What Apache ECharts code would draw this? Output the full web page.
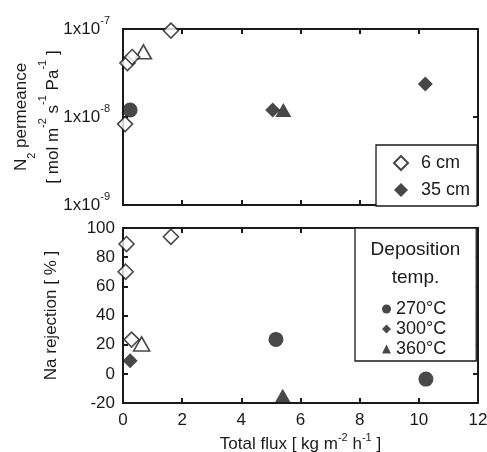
<!DOCTYPE html>
<html>
<head>
<meta charset="utf-8">
<script src="https://cdn.jsdelivr.net/npm/echarts@6/dist/echarts.min.js"></script>
<style>
html, body { margin: 0; background: #fff; }
#chart { width: 487px; height: 452px; }
</style>
</head>
<body>
<div id="chart"></div>
<script>
// total flux [kg m-2 h-1] vs N2 permeance [mol m-2 s-1 Pa-1]
const perm6cm300 = [[0.07, 8.3e-9], [0.15, 4.1e-8], [0.31, 4.8e-8], [1.62, 9.6e-8]]
const perm6cm360 = [[0.69, 5.5e-8]]
const perm35cm270 = [[0.24, 1.2e-8]]
const perm35cm300 = [[5.06, 1.2e-8], [10.22, 2.37e-8]]
const perm35cm360 = [[5.42, 1.2e-8]]

// total flux vs Na rejection [%]
const rej6cm300 = [[0.12, 89], [0.09, 70], [1.62, 94], [0.29, 23.5]]
const rej6cm360 = [[0.63, 20.5]]
const rej35cm270 = [[5.17, 23.6], [10.24, -3.6]]
const rej35cm300 = [[0.24, 9]]
const rej35cm360 = [[5.4, -15]]

// axis ranges [min, max, step]
const fluxTicks = [0, 12, 2]
const permTicks = [1e-9, 1e-7]
const rejTicks = [-20, 100, 20]

const distLegend = ['6 cm', '35 cm']
const tempLegend = ['270°C', '300°C', '360°C']

const ink = '#1a1a1a'
const font = '"Liberation Sans", Arial, sans-serif'

const shapes = {
    circle: {symbol: 'circle', symbolSize: 15},
    diamond: {symbol: 'diamond', symbolSize: 15},
    triangle: {symbol: 'triangle', symbolSize: [16, 14]}
}
const open = {color: '#fff', borderColor: ink, borderWidth: 1.6}
const filled = {color: ink}

function scatter(name, data, shape, style, panel) {
    return {
        type: 'scatter',
        name,
        data,
        ...shapes[shape],
        itemStyle: style,
        xAxisIndex: panel * 2,
        yAxisIndex: panel * 2,
        clip: false,
        silent: true
    }
}

const sup = {fontSize: 11, lineHeight: 11, verticalAlign: 'top', fontFamily: font, color: ink}
const supName = {fontSize: 11, lineHeight: 17, verticalAlign: 'top', fontFamily: font, color: ink}
const sub = {fontSize: 11, lineHeight: 11, verticalAlign: 'bottom', fontFamily: font, color: ink}

function fluxAxis(gridIndex, position, labels) {
    return {
        type: 'value',
        gridIndex,
        position,
        min: fluxTicks[0],
        max: fluxTicks[1],
        interval: fluxTicks[2],
        axisLine: {onZero: false, lineStyle: {color: ink, width: 2}},
        axisTick: {inside: true, length: 5, lineStyle: {color: ink, width: 2}},
        axisLabel: {show: labels, color: ink, fontSize: 17, margin: 9, fontFamily: font},
        splitLine: {show: false}
    }
}

function sideAxis(base, position, labels) {
    return {
        ...base,
        position,
        axisLine: {onZero: false, lineStyle: {color: ink, width: 2}},
        axisTick: {inside: true, length: 5, lineStyle: {color: ink, width: 2}},
        axisLabel: {...base.axisLabel, show: labels},
        splitLine: {show: false}
    }
}

const permAxis = {
    type: 'log',
    gridIndex: 0,
    logBase: 10,
    min: permTicks[0],
    max: permTicks[1],
    axisLabel: {
        color: ink, fontSize: 17, fontFamily: font, margin: 13, lineHeight: 28,
        formatter: v => '1x10{sup|' + Math.round(Math.log10(v)) + '}',
        rich: {sup}
    }
}

const rejAxis = {
    type: 'value',
    gridIndex: 1,
    min: rejTicks[0],
    max: rejTicks[1],
    interval: rejTicks[2],
    axisLabel: {color: ink, fontSize: 17, fontFamily: font, margin: 8}
}

const option = {
    animation: false,
    backgroundColor: '#fff',
    textStyle: {fontFamily: font},
    grid: [
        {left: 123, top: 29, width: 355, height: 176, outerBoundsMode: 'none'},
        {left: 123, top: 228, width: 355, height: 175, outerBoundsMode: 'none'}
    ],
    xAxis: [
        fluxAxis(0, 'bottom', false),
        fluxAxis(0, 'top', false),
        {
            ...fluxAxis(1, 'bottom', true),
            name: 'Total flux [ kg m{sup|-2} h{sup|-1} ]',
            nameLocation: 'middle',
            nameGap: 29,
            nameMoveOverlap: false,
            nameTextStyle: {color: ink, fontSize: 17, fontFamily: font, lineHeight: 24, rich: {sup: supName}}
        },
        fluxAxis(1, 'top', false)
    ],
    yAxis: [
        {
            ...sideAxis(permAxis, 'left', true),
            name: 'N{sub|2} permeance\n[ mol m{sup|-2} s{sup|-1} Pa{sup|-1} ]',
            nameLocation: 'middle',
            nameRotate: 90,
            nameGap: 54,
            nameMoveOverlap: false,
            nameTextStyle: {
                color: ink, fontSize: 17, fontFamily: font, lineHeight: 32,
                rich: {sup: {...supName, lineHeight: 19}, sub}
            }
        },
        sideAxis(permAxis, 'right', false),
        {
            ...sideAxis(rejAxis, 'left', true),
            name: 'Na rejection [ % ]',
            nameLocation: 'middle',
            nameRotate: 90,
            nameGap: 63,
            nameMoveOverlap: false,
            nameTextStyle: {color: ink, fontSize: 17, fontFamily: font}
        },
        sideAxis(rejAxis, 'right', false)
    ],
    legend: [
        {
            data: distLegend,
            orient: 'vertical',
            left: 376,
            top: 145,
            padding: [9, 7, 7, 17],
            itemGap: 9,
            itemWidth: 14,
            itemHeight: 14,
            backgroundColor: '#fff',
            borderColor: ink,
            borderWidth: 1.3,
            selectedMode: false,
            textStyle: {color: ink, fontSize: 18, fontFamily: font, padding: [0, 0, 0, 8]}
        },
        {
            data: tempLegend,
            orient: 'vertical',
            left: 355,
            top: 228,
            padding: [72, 30, 3, 27],
            itemGap: 2,
            itemWidth: 9,
            itemHeight: 9,
            backgroundColor: '#fff',
            borderColor: ink,
            borderWidth: 1.3,
            selectedMode: false,
            textStyle: {color: ink, fontSize: 18, fontFamily: font}
        }
    ],
    graphic: [{
        type: 'text',
        x: 415.5,
        y: 236,
        z: 100,
        style: {
            text: 'Deposition\ntemp.',
            fill: ink,
            font: '19px ' + font,
            lineHeight: 28,
            textAlign: 'center',
            textVerticalAlign: 'top'
        }
    }],
    series: [
        scatter('6 cm 360°C', perm6cm360, 'triangle', open, 0),
        scatter('35 cm 360°C', perm35cm360, 'triangle', filled, 0),
        scatter('35 cm 270°C', perm35cm270, 'circle', filled, 0),
        scatter('35 cm 300°C', perm35cm300, 'diamond', filled, 0),
        scatter('6 cm 300°C', perm6cm300, 'diamond', open, 0),

        scatter('6 cm 360°C ', rej6cm360, 'triangle', open, 1),
        scatter('35 cm 360°C ', rej35cm360, 'triangle', filled, 1),
        scatter('35 cm 270°C ', rej35cm270, 'circle', filled, 1),
        scatter('35 cm 300°C ', rej35cm300, 'diamond', filled, 1),
        scatter('6 cm 300°C ', rej6cm300, 'diamond', open, 1),

        // legend-only entries
        scatter('6 cm', [], 'diamond', open, 0),
        scatter('35 cm', [], 'diamond', filled, 0),
        scatter('270°C', [], 'circle', filled, 1),
        scatter('300°C', [], 'diamond', filled, 1),
        scatter('360°C', [], 'triangle', filled, 1)
    ]
}

const myChart = echarts.init(document.getElementById('chart'))
myChart.setOption(option)
</script>
</body>
</html>
